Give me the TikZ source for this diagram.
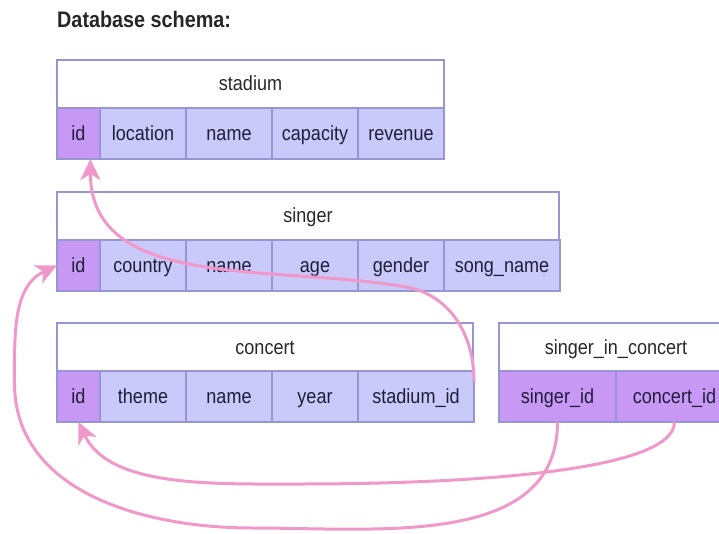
\documentclass[tikz,border=0pt]{standalone}
\usepackage{fontspec}
\setmainfont{Liberation Sans}[FakeStretch=0.88]
\usetikzlibrary{arrows.meta,positioning}

\definecolor{tblline}{RGB}{150,150,215}
\definecolor{fldfill}{RGB}{202,202,250}
\definecolor{keyfill}{RGB}{200,152,245}
\definecolor{fldtext}{RGB}{30,30,60}
\definecolor{hdrtext}{RGB}{40,40,40}
\definecolor{fkpink}{RGB}{240,152,202}

\begin{document}
\begin{tikzpicture}[
        x=1pt, y=1pt,
        font=\fontsize{20.5}{24}\selectfont,
        hdr/.style={draw=tblline, fill=white, line width=1.5pt, minimum height=48pt, inner sep=0pt, outer sep=0pt, text height=15pt, text depth=1pt, text=hdrtext, anchor=north west},
        fld/.style={draw=tblline, fill=fldfill, line width=1.5pt, minimum height=51pt, minimum width=86pt, inner sep=0pt, outer sep=0pt, text height=15pt, text depth=1pt, text=fldtext},
        key/.style={fld, fill=keyfill, minimum width=43pt},
        fk/.style={draw=fkpink, line width=3pt, -{Stealth[length=21pt,width=20pt,inset=6pt]}}
    ]
        \useasboundingbox (0,0) rectangle (719,533);

        \node[anchor=base west, inner sep=0pt, font=\fontsize{22.5}{26}\selectfont\bfseries, text=black!85] (title) at (57,505) {Database schema:};

        % stadium
        \node[hdr, minimum width=387pt] (st) at (57,473) {stadium};
        \node[key, anchor=north west] (st-id) at (st.south west) {id};
        \node[fld, right=0pt of st-id] (st-loc) {location};
        \node[fld, right=0pt of st-loc] (st-name) {name};
        \node[fld, right=0pt of st-name] (st-cap) {capacity};
        \node[fld, right=0pt of st-cap] (st-rev) {revenue};

        % singer
        \node[hdr, minimum width=502pt] (sg) at (57,341) {singer};
        \node[key, anchor=north west] (sg-id) at (sg.south west) {id};
        \node[fld, right=0pt of sg-id] (sg-cty) {country};
        \node[fld, right=0pt of sg-cty] (sg-name) {name};
        \node[fld, right=0pt of sg-name] (sg-age) {age};
        \node[fld, right=0pt of sg-age] (sg-gen) {gender};
        \node[fld, right=0pt of sg-gen, minimum width=116pt] (sg-song) {song\_name};

        % concert
        \node[hdr, minimum width=416pt] (cc) at (57,210) {concert};
        \node[key, anchor=north west] (cc-id) at (cc.south west) {id};
        \node[fld, right=0pt of cc-id] (cc-theme) {theme};
        \node[fld, right=0pt of cc-theme] (cc-name) {name};
        \node[fld, right=0pt of cc-name] (cc-year) {year};
        \node[fld, right=0pt of cc-year, minimum width=116pt] (cc-sid) {stadium\_id};

        % singer_in_concert
        \node[hdr, minimum width=234pt] (sic) at (499,210) {singer\_in\_concert};
        \node[key, anchor=north west, minimum width=117pt] (sic-sid) at (sic.south west) {singer\_id};
        \node[key, right=0pt of sic-sid, minimum width=117pt] (sic-cid) {concert\_id};

        % foreign keys
        \draw[fk] ([yshift=-10pt]cc-sid.north east) to[out=90, in=-10] ++(-68,94) to[out=170, in=-90] (st-id.-65);
        \draw[fk] (sic-sid.south) to[out=-90, in=0] ++(-305,-106) to[out=180, in=-90] ++(-238,145) to[out=90, in=-155] (sg-id.west);
        \draw[fk] (sic-cid.south) to[out=-90, in=0, out looseness=0.35] ++(-374,-62) to[out=180, in=-65, in looseness=0.8] (cc-id.south);
    \end{tikzpicture}
\end{document}
